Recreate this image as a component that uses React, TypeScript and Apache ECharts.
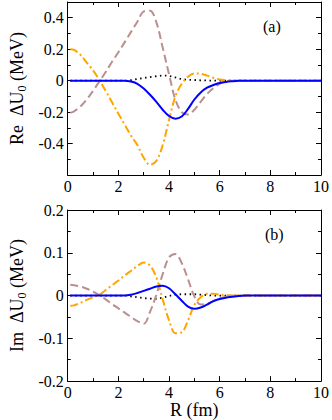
import React, { useEffect, useRef } from "react";
import * as echarts from "echarts";

// Radial grid (fm)
const R = [0.1, 0.25, 0.5, 0.75, 1, 1.25, 1.5, 1.75, 2, 2.25, 2.5, 2.75, 3, 3.25, 3.5, 3.75, 4, 4.25, 4.5, 4.75, 5, 5.25, 5.5, 5.75, 6, 6.25, 6.5, 6.75, 7, 8, 9, 10];

// Panel (a): Re ΔU0 (MeV)
const reDashed = [-0.205, -0.195, -0.165, -0.12, -0.065, -0.005, 0.055, 0.12, 0.18, 0.245, 0.31, 0.375, 0.44, 0.445, 0.37, 0.21, 0.04, -0.12, -0.2, -0.215, -0.185, -0.135, -0.085, -0.048, -0.02, -0.005, 0, 0, 0, 0, 0, 0];
const reDashDot = [0.2, 0.195, 0.165, 0.115, 0.065, 0.003, -0.066, -0.138, -0.21, -0.28, -0.35, -0.41, -0.49, -0.535, -0.51, -0.41, -0.25, -0.1, -0.02, 0.025, 0.046, 0.043, 0.032, 0.018, 0.007, 0.002, 0, 0, 0, 0, 0, 0];
const reDotted = [0, 0, 0, 0, 0, 0, 0, 0, 0, 0, 0.003, 0.01, 0.017, 0.023, 0.028, 0.032, 0.03, 0.02, 0.01, 0.006, 0.004, 0.002, 0.001, 0, 0, 0, 0, 0, 0, 0, 0, 0];
const reSolid = [0, 0, 0, 0, 0, 0, 0, 0, 0, 0, -0.006, -0.02, -0.05, -0.09, -0.135, -0.185, -0.225, -0.242, -0.228, -0.18, -0.12, -0.075, -0.045, -0.028, -0.015, -0.008, -0.004, -0.001, 0, 0, 0, 0];

// Panel (b): Im ΔU0 (MeV)
const imDashed = [0.025, 0.024, 0.021, 0.016, 0.009, 0.001, -0.009, -0.02, -0.03, -0.04, -0.05, -0.06, -0.066, -0.038, 0.002, 0.05, 0.089, 0.097, 0.076, 0.038, -0.002, -0.021, -0.019, -0.013, -0.007, -0.003, -0.001, 0, 0, 0, 0, 0];
const imDashDot = [-0.024, -0.023, -0.017, -0.01, -0.004, 0.002, 0.013, 0.024, 0.035, 0.047, 0.058, 0.069, 0.077, 0.07, 0.042, -0.009, -0.058, -0.088, -0.086, -0.058, -0.022, -0.004, 0.004, 0.004, 0.002, 0.001, 0, 0, 0, 0, 0, 0];
const imDotted = [0, 0, 0, 0, 0, 0, 0, 0, 0, 0, -0.002, -0.004, -0.006, -0.007, -0.0075, -0.005, -0.001, 0.002, 0.003, 0.003, 0.003, 0.002, 0.001, 0, 0, 0, 0, 0, 0, 0, 0, 0];
const imSolid = [0, 0, 0, 0, 0, 0, 0, 0, 0, 0, 0.002, 0.006, 0.011, 0.016, 0.021, 0.023, 0.017, 0.003, -0.012, -0.026, -0.031, -0.028, -0.021, -0.013, -0.008, -0.005, -0.003, -0.001, 0, 0, 0, 0];

const FONT = "Liberation Serif";
const BLACK = "#000";

const pair = (ys: number[]) => R.map((r, i) => [r, ys[i]]);
const fmt = (v: number) => (Math.abs(v) < 1e-9 ? "0" : String(Math.round(v * 10) / 10));

const lineCol = { color: BLACK, width: 1 };

function xAx(grid: number, pos: string, labels: boolean, name?: string) {
  return {
    type: "value",
    gridIndex: grid,
    position: pos,
    min: 0,
    max: 10,
    interval: 2,
    axisLine: { show: true, onZero: false, lineStyle: lineCol },
    axisTick: { show: true, inside: true, length: 5, lineStyle: lineCol },
    minorTick: { show: true, splitNumber: 2, length: 3, lineStyle: lineCol },
    splitLine: { show: false },
    minorSplitLine: { show: false },
    axisLabel: { show: labels, color: BLACK, fontFamily: FONT, fontSize: 16, margin: 3 },
    name: name || "",
    nameLocation: "middle",
    nameGap: 17,
    nameTextStyle: { color: BLACK, fontFamily: FONT, fontSize: 18, verticalAlign: "top" },
  };
}

function yAx(grid: number, pos: string, min: number, max: number, interval: number, opts: any) {
  return {
    type: "value",
    gridIndex: grid,
    position: pos,
    min,
    max,
    interval,
    axisLine: { show: opts.line, onZero: false, lineStyle: lineCol },
    axisTick: { show: true, inside: true, length: opts.tickLen, lineStyle: lineCol },
    minorTick: { show: !!opts.minor, splitNumber: 2, length: 3, lineStyle: lineCol },
    splitLine: { show: false },
    minorSplitLine: { show: false },
    axisLabel: {
      show: !!opts.labels,
      color: BLACK,
      fontFamily: FONT,
      fontSize: 16,
      margin: 4,
      formatter: opts.formatter || fmt,
    },
    name: opts.name || "",
    nameLocation: "middle",
    nameGap: 38,
    nameTextStyle: {
      color: BLACK,
      fontFamily: FONT,
      fontSize: 18,
      rich: {
        a: { fontFamily: FONT, fontSize: 18, color: BLACK },
        b: { fontFamily: FONT, fontSize: 12, color: BLACK, padding: [9, 0, 0, 0] },
      },
    },
  };
}

function series(data: number[], xi: number, yi: number, color: string, type: any, width: number) {
  return {
    type: "line",
    xAxisIndex: xi,
    yAxisIndex: yi,
    data: pair(data),
    smooth: 0.35,
    showSymbol: false,
    symbol: "none",
    connectNulls: false,
    lineStyle: { color, type, width },
    z: 2,
  };
}

const ROSY = "#bc8f8f";
const ORANGE = "#ffa500";
const BLUE = "#0000ff";
const DASH = [8, 4];
const DASHDOT = [8, 3, 2, 3];
const DOT = [1.5, 3.5];

export default function App() {
  const ref = useRef<HTMLDivElement>(null);
  useEffect(() => {
    if (!ref.current) return;
    const chart = echarts.init(ref.current, null, { renderer: "svg" });
    const topFmt = (v: number) => (v < -0.55 || v > 0.45 ? "" : fmt(v));
    chart.setOption({
      animation: false,
      backgroundColor: "#fff",
      grid: [
        { left: 54, right: 9, top: 2, height: 173 },
        { left: 54, right: 9, top: 210, height: 173 },
      ],
      xAxis: [xAx(0, "bottom", true), xAx(0, "top", false), xAx(1, "bottom", true, "R (fm)"), xAx(1, "top", false)],
      yAxis: [
        yAx(0, "left", -0.6, 0.5, 0.2, { line: true, tickLen: 5, labels: true, formatter: topFmt, name: "{a|Re  ΔU}{b|0}{a| (MeV)}" }),
        yAx(0, "left", -0.6, 0.5, 0.1, { line: false, tickLen: 3 }),
        yAx(0, "right", -0.6, 0.5, 0.2, { line: true, tickLen: 5 }),
        yAx(0, "right", -0.6, 0.5, 0.1, { line: false, tickLen: 3 }),
        yAx(1, "left", -0.2, 0.2, 0.1, { line: true, tickLen: 5, labels: true, minor: true, name: "{a|Im  ΔU}{b|0}{a| (MeV)}" }),
        yAx(1, "right", -0.2, 0.2, 0.1, { line: true, tickLen: 5, minor: true }),
      ],
      series: [
        series(reDotted, 0, 0, BLACK, DOT, 1.8),
        series(reDashed, 0, 0, ROSY, DASH, 2),
        series(reDashDot, 0, 0, ORANGE, DASHDOT, 2),
        series(reSolid, 0, 0, BLUE, "solid", 2),
        series(imDotted, 2, 4, BLACK, DOT, 1.8),
        series(imDashed, 2, 4, ROSY, DASH, 2),
        series(imDashDot, 2, 4, ORANGE, DASHDOT, 2),
        series(imSolid, 2, 4, BLUE, "solid", 2),
      ],
      graphic: [
        { type: "text", left: 263, top: 18, style: { text: "(a)", fontFamily: FONT, fontSize: 16, fill: BLACK } },
        { type: "text", left: 265, top: 226, style: { text: "(b)", fontFamily: FONT, fontSize: 16, fill: BLACK } },
      ],
    });
    return () => chart.dispose();
  }, []);
  return <div ref={ref} style={{ position: "fixed", left: 0, top: 0, width: 332, height: 420 }} />;
}
